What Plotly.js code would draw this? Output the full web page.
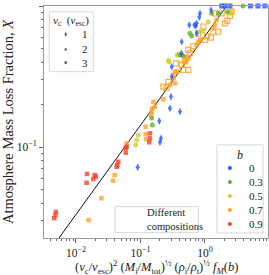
<!DOCTYPE html>
<html>
<head>
<meta charset="utf-8">
<script src="https://cdn.plot.ly/plotly-3.0.1.min.js"></script>
<style>html,body{margin:0;padding:0;background:#fff;}#chart{width:269px;height:275px;}</style>
</head>
<body>
<div id="chart"></div>
<script>
// ---- data ----
// b = 0, v_c = 1 (diamonds)
const blueDiaX = [1.24, 0.837, 0.816, 0.743, 0.571, 0.683, 0.72, 0.743, 0.4355, 0.43, 0.305, 0.305, 0.297, 0.2866, 0.4095, 0.1955, 0.208, 0.2005, 0.0905];
const blueDiaY = [0.937, 0.888, 0.832, 0.754, 0.733, 0.733, 0.722, 0.640, 0.558, 0.462, 0.371, 0.315, 0.2275, 0.188, 0.178, 0.1528, 0.1153, 0.108, 0.0718];
// b = 0, v_c = 3 (squares, X = 1)
const blueSqX = [1.815, 2.04, 2.44, 5.07, 6.63, 8.5];
const blueSqY = [1, 1, 1, 1, 1, 1];
// b = 0.3
const greenX = [1.27, 1.61, 2.22, 3.88, 0.585, 0.622, 0.461, 0.4095, 0.149, 0.1525];
const greenY = [0.888, 0.888, 0.91, 1.0, 0.640, 0.612, 0.442, 0.449, 0.1606, 0.1432];
// b = 0.5
const yellowX = [1.125, 0.837, 0.942, 2.44, 2.59, 0.3855, 0.37, 0.2767, 0.27, 0.0925, 0.0873, 0.0843];
const yellowY = [0.774, 0.657, 0.668, 0.888, 0.911, 0.454, 0.449, 0.403, 0.41, 0.1216, 0.1122, 0.1033];
// b = 0.7
const orangeX = [1.518, 1.429, 1.345, 0.837, 0.787, 0.743, 0.551, 0.52, 0.52, 0.49, 0.4355, 0.364, 0.343, 0.3228, 0.3228, 0.343, 0.2866, 0.2256, 0.158, 0.1525, 0.168, 0.149, 0.1455, 0.1205, 0.1205, 0.1217, 0.0611, 0.0398, 0.0375, 0.0247, 0.0157];
const orangeY = [0.796, 0.733, 0.695, 0.58, 0.558, 0.529, 0.426, 0.437, 0.414, 0.403, 0.449, 0.342, 0.342, 0.324, 0.307, 0.283, 0.275, 0.218, 0.2095, 0.188, 0.193, 0.178, 0.1686, 0.1393, 0.1236, 0.114, 0.1062, 0.0633, 0.0577, 0.0433, 0.0303];
// b = 0.7, different compositions (open squares)
const compX = [1.43, 1.815, 2.44, 2.59, 2.22, 2.04, 1.61, 1.345, 0.942, 1.062, 1.24, 1.0, 0.787, 0.659, 0.551, 0.585, 0.49, 0.4355, 0.551, 0.461, 0.355, 0.27, 0.2256, 0.2547];
const compY = [0.888, 0.888, 0.849, 0.911, 0.787, 0.754, 0.657, 0.657, 0.713, 0.612, 0.596, 0.574, 0.640, 0.520, 0.488, 0.462, 0.403, 0.382, 0.352, 0.352, 0.392, 0.29, 0.268, 0.261];
// b = 0.9
const redX = [0.1403, 0.1403, 0.1368, 0.059, 0.059, 0.0611, 0.0453, 0.0437, 0.0428, 0.0195, 0.01853, 0.0202, 0.0148, 0.0146, 0.0049, 0.0048, 0.00461];
const redY = [0.125, 0.1153, 0.108, 0.098, 0.0912, 0.1005, 0.0787, 0.0745, 0.0725, 0.0633, 0.0593, 0.0616, 0.0644, 0.0558, 0.0346, 0.033, 0.0313];
// scaling line
const lineX = [0.00545, 2.17];
const lineY = [0.02265, 1.0];
// legend contents
const vcLabels = ['1', '2', '3'];
const bLabels = ['0', '0.3', '0.5', '0.7', '0.9'];
const xTickVals = [0.01, 0.1, 1];
const xTickText = ['10<sup>−2</sup>', '10<sup>−1</sup>', '10<sup>0</sup>'];
const yTickVals = [0.1, 1];
const yTickText = ['10<sup>−1</sup>', '10<sup>0</sup>'];

// ---- styling ----
const C = {blue: 'rgb(35,85,255)', green: 'rgb(100,175,45)', yellow: 'rgb(212,204,50)', orange: 'rgb(255,160,40)', red: 'rgb(245,65,45)'};
const bColors = [C.blue, C.green, C.yellow, C.orange, C.red];
const FONT = 'Liberation Serif, DejaVu Serif, serif';

function pts(x, y, color, symbol, size) {
  return {x: x, y: y, type: 'scatter', mode: 'markers', cliponaxis: false, hoverinfo: 'skip',
    marker: {color: color, symbol: symbol, size: size, opacity: 0.8, line: {width: 0}}};
}

const traces = [
  {x: lineX, y: lineY, type: 'scatter', mode: 'lines', line: {color: '#111', width: 1}, hoverinfo: 'skip'},
  {x: compX, y: compY, type: 'scatter', mode: 'markers', cliponaxis: false, hoverinfo: 'skip',
    marker: {color: C.orange, symbol: 'square-open', size: 5, opacity: 0.85, line: {width: 1.2, color: C.orange}}},
  pts(orangeX, orangeY, C.orange, 'square', 4.5),
  pts(yellowX, yellowY, C.yellow, 'circle', 5),
  pts(greenX, greenY, C.green, 'circle', 5),
  pts(redX, redY, C.red, 'square', 4.5),
  pts(blueDiaX, blueDiaY, C.blue, 'diamond-tall', 5.5),
  pts(blueSqX, blueSqY, C.blue, 'square', 5),
];

// legend markers drawn on an overlay [0,1] axis pair
const vcSymbols = ['diamond-tall', 'circle', 'square'];
const vcY = [0.878, 0.813, 0.756];
traces.push({x: vcLabels.map(() => 0.097), y: vcY, xaxis: 'x2', yaxis: 'y2', type: 'scatter', mode: 'markers', hoverinfo: 'skip',
  marker: {color: '#222', symbol: vcSymbols, size: [5, 3.5, 3.5]}});
const bY = bLabels.map((_, i) => 0.302 - i * 0.0605);
traces.push({x: bLabels.map(() => 0.830), y: bY, xaxis: 'x2', yaxis: 'y2', type: 'scatter', mode: 'markers', hoverinfo: 'skip',
  marker: {color: bColors, symbol: 'circle', size: 4}});
traces.push({x: [0.372], y: [0.073], xaxis: 'x2', yaxis: 'y2', type: 'scatter', mode: 'markers', hoverinfo: 'skip',
  marker: {color: 'rgba(0,0,0,0)', symbol: 'circle-open', size: 5, line: {color: '#222', width: 1.5}}});

// minor ticks
const xMinor = [], yMinor = [];
for (let k = -3; k <= 0; k++) for (let m = 2; m <= 9; m++) xMinor.push(m * Math.pow(10, k));
for (let k = -2; k <= -1; k++) for (let m = 2; m <= 9; m++) yMinor.push(m * Math.pow(10, k));

const txt = (x, y, text, size, xanchor, extra) => Object.assign({xref: 'paper', yref: 'paper', x: x, y: y, text: text, showarrow: false,
  font: {family: FONT, size: size, color: '#222'}, xanchor: xanchor, yanchor: 'middle'}, extra || {});
const annotations = [];
annotations.push(txt(0.122, 0.937, '<i>v</i><sub>c</sub>  (<i>v</i><sub>esc</sub>)', 11, 'center'));
vcLabels.forEach((t, i) => annotations.push(txt(0.183, vcY[i], t, 11, 'center')));
annotations.push(txt(0.875, 0.358, '<i>b</i>', 12, 'center'));
bLabels.forEach((t, i) => annotations.push(txt(0.906, bY[i], t, 11, 'left')));
annotations.push(txt(0.451, 0.080, 'Different<br>compositions', 10.5, 'left', {align: 'left'}));
// x-axis title
annotations.push(txt(0.50, -0.125, '(<i>v</i><sub>c</sub>/<i>v</i><sub>esc</sub>)<sup>2</sup> (<i>M</i><sub>i</sub>/<i>M</i><sub>tot</sub>)<sup>½</sup> (<i>ρ</i><sub>i</sub>/<i>ρ</i><sub>t</sub>)<sup>½</sup> <i>f</i><sub><i>M</i></sub>(<i>b</i>)', 12.5, 'center'));

const boxStyle = {type: 'rect', xref: 'paper', yref: 'paper', layer: 'below', fillcolor: 'rgba(255,255,255,0.9)', line: {color: 'rgb(215,215,215)', width: 1}};
const shapes = [
  Object.assign({x0: 0.024, x1: 0.220, y0: 0.717, y1: 0.975}, boxStyle),
  Object.assign({x0: 0.772, x1: 0.978, y0: 0.022, y1: 0.401}, boxStyle),
  Object.assign({x0: 0.317, x1: 0.689, y0: 0.023, y1: 0.135}, boxStyle),
];

const axisCommon = {type: 'log', showgrid: false, zeroline: false, showline: true, mirror: true, linecolor: '#999', linewidth: 1,
  ticks: 'outside', ticklen: 4, tickcolor: '#666', tickmode: 'array', tickfont: {family: FONT, size: 11.5, color: '#222'}};

const layout = {
  width: 269, height: 275, margin: {l: 44, r: 1, t: 6, b: 37},
  paper_bgcolor: '#fff', plot_bgcolor: '#fff', showlegend: false,
  font: {family: FONT, color: '#222'},
  xaxis: Object.assign({}, axisCommon, {range: [-2.496, 0.977], tickvals: xTickVals, ticktext: xTickText,
    minor: {tickmode: 'array', tickvals: xMinor, ticks: 'outside', ticklen: 2, tickcolor: '#666'}}),
  yaxis: Object.assign({}, axisCommon, {range: [-1.645, 0], tickvals: yTickVals, ticktext: yTickText,
    minor: {tickmode: 'array', tickvals: yMinor, ticks: 'outside', ticklen: 2, tickcolor: '#666'},
    title: {text: 'Atmosphere Mass Loss Fraction, <i>X</i>', font: {family: FONT, size: 14.5, color: '#222'}, standoff: 3}}),
  xaxis2: {overlaying: 'x', range: [0, 1], visible: false, fixedrange: true},
  yaxis2: {overlaying: 'y', range: [0, 1], visible: false, fixedrange: true},
  shapes: shapes, annotations: annotations,
};

Plotly.newPlot('chart', traces, layout, {staticPlot: true, displayModeBar: false});
</script>
</body>
</html>
